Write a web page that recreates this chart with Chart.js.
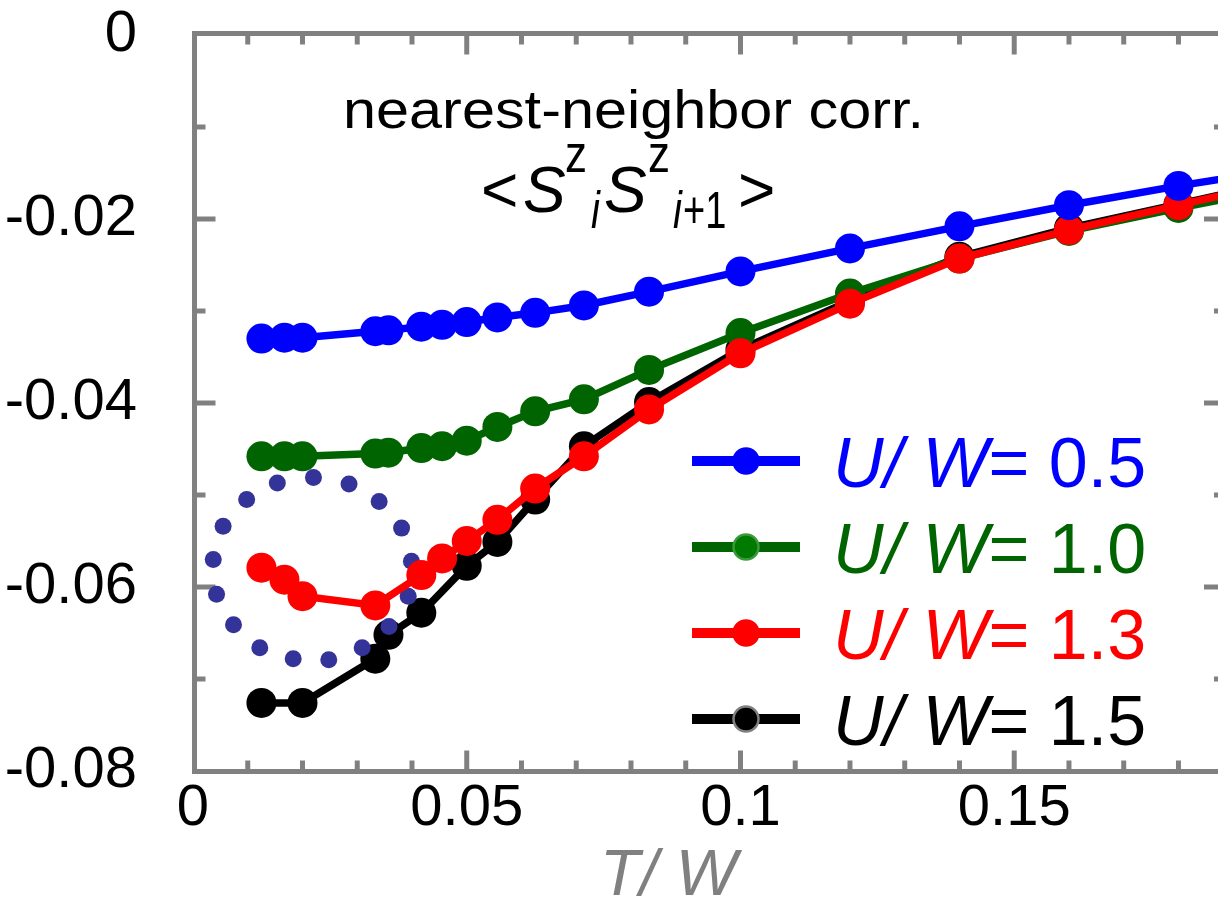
<!DOCTYPE html>
<html><head><meta charset="utf-8">
<script src="https://cdn.jsdelivr.net/npm/chart.js@4/dist/chart.umd.min.js"></script>
<style>
html,body{margin:0;padding:0;background:#fff;overflow:hidden;}
#wrap{width:1218px;height:907px;overflow:hidden;position:relative;background:#fff;}
canvas{display:block;}
</style></head>
<body><div id="wrap"><canvas id="c" width="1240" height="907" style="width:1240px;height:907px"></canvas></div>
<script>
// ---- data ----
const uValues = ['0.5', '1.0', '1.3', '1.5'];
const xTickValues = [0, 0.05, 0.1, 0.15];
const yTickValues = [0, -0.02, -0.04, -0.06, -0.08];

const tU05 = [0.0125, 0.0167, 0.02, 0.0333, 0.0357, 0.0417, 0.0455, 0.05, 0.0556, 0.0625, 0.0714, 0.0833, 0.1, 0.12, 0.14, 0.16, 0.18, 0.2];
const corrU05 = [-0.0330, -0.0329, -0.0329, -0.0322, -0.0321, -0.0317, -0.0315, -0.0312, -0.0307, -0.0302, -0.0294, -0.0279, -0.0257, -0.0232, -0.0208, -0.0185, -0.0164, -0.0145];

const tU10 = [0.0125, 0.0167, 0.02, 0.0333, 0.0357, 0.0417, 0.0455, 0.05, 0.0556, 0.0625, 0.0714, 0.0833, 0.1, 0.12, 0.14, 0.16, 0.18, 0.2];
const corrU10 = [-0.0458, -0.0458, -0.0458, -0.0455, -0.0454, -0.0449, -0.0447, -0.0441, -0.0426, -0.0409, -0.0396, -0.0364, -0.0324, -0.0281, -0.0243, -0.0213, -0.0188, -0.0165];

const tU13 = [0.0125, 0.0167, 0.02, 0.0333, 0.0417, 0.0455, 0.05, 0.0556, 0.0625, 0.0714, 0.0833, 0.1, 0.12, 0.14, 0.16, 0.18, 0.2];
const corrU13 = [-0.0579, -0.0592, -0.0610, -0.0620, -0.0587, -0.0569, -0.0550, -0.0527, -0.0493, -0.0458, -0.0407, -0.0346, -0.0292, -0.0243, -0.0212, -0.0185, -0.0158];

const tU15 = [0.0125, 0.02, 0.0333, 0.0357, 0.0417, 0.05, 0.0556, 0.0625, 0.0714, 0.0833, 0.1, 0.12, 0.14, 0.16, 0.18, 0.2];
const corrU15 = [-0.0726, -0.0726, -0.0678, -0.0652, -0.0628, -0.0577, -0.0551, -0.0505, -0.0447, -0.0399, -0.0342, -0.0289, -0.0241, -0.0210, -0.0184, -0.0157];

// dotted circle annotation
const circleT = [0.0037, 0.0043, 0.0074, 0.0122, 0.0183, 0.0248, 0.0309, 0.0358, 0.0393, 0.0399, 0.0381, 0.0340, 0.0285, 0.0220, 0.0154, 0.0098, 0.0055];
const circleCorr = [-0.0570, -0.0608, -0.0641, -0.0666, -0.0678, -0.0679, -0.0666, -0.0643, -0.0610, -0.0572, -0.0536, -0.0507, -0.0488, -0.0481, -0.0487, -0.0505, -0.0534];

// ---- styles ----
const FONT = '"Liberation Sans", Arial, Helvetica, sans-serif';
const seriesColors = ['#0000ff', '#006400', '#ff0000', '#000000'];
const legendBorders = ['#0000ff', '#3a9a3a', '#ff0000', '#808080'];
const legendFills = ['#0000ff', '#007a00', '#ff0000', '#000000'];

const pts = (xs, ys) => xs.map((v, i) => ({x: v, y: ys[i]}));

function series(xs, ys, i, order) {
  return {
    label: 'U/ W= ' + uValues[i],
    data: pts(xs, ys),
    borderColor: seriesColors[i],
    backgroundColor: seriesColors[i],
    pointBackgroundColor: seriesColors[i],
    pointBorderColor: seriesColors[i],
    borderWidth: 7.5,
    pointRadius: 15,
    pointBorderWidth: 0,
    pointHoverRadius: 15,
    tension: 0,
    showLine: true,
    order: order
  };
}

const datasets = [
  series(tU05, corrU05, 0, 0),
  series(tU13, corrU13, 2, 1),
  series(tU10, corrU10, 1, 2),
  {
    label: '',
    data: pts(circleT, circleCorr),
    showLine: false,
    pointRadius: 8.5,
    pointBorderWidth: 0,
    pointBackgroundColor: '#333399',
    backgroundColor: '#333399',
    borderColor: '#333399',
    order: 3
  },
  series(tU15, corrU15, 3, 4)
];

const frame = {
  id: 'frame',
  beforeDatasetsDraw(chart) {
    const {ctx, chartArea: a, scales: {x, y}} = chart;
    ctx.save();
    ctx.strokeStyle = '#808080';
    ctx.lineWidth = 5;
    const L = x.getPixelForValue(0) + 1.5;
    const R = a.right;
    const T = y.getPixelForValue(0) - 1.5;
    const B = y.getPixelForValue(-0.08) + 0.5;
    ctx.strokeRect(L, T, R - L, B - T);
    const seg = (x1, y1, x2, y2) => { ctx.beginPath(); ctx.moveTo(x1, y1); ctx.lineTo(x2, y2); ctx.stroke(); };
    for (let i = 1; i <= 18; i++) {
      const px = x.getPixelForValue(i / 100);
      const len = (i % 5 === 0) ? 21 : 11;
      seg(px, B, px, B - len);
      seg(px, T, px, T + len);
    }
    for (let i = 1; i <= 7; i++) {
      const py = y.getPixelForValue(-i / 100);
      const len = (i % 2 === 0) ? 21 : 11;
      seg(L, py, L + len, py);
      seg(R, py, R - len, py);
    }
    ctx.restore();
  }
};

function scaledText(ctx, t, font, x, y, sx, sy) {
  ctx.save();
  ctx.font = font;
  ctx.translate(x, y);
  ctx.scale(sx, sy);
  ctx.fillText(t, 0, 0);
  ctx.restore();
}

const texts = {
  id: 'texts',
  afterDraw(chart) {
    const ctx = chart.ctx;
    ctx.save();
    ctx.textBaseline = 'alphabetic';
    ctx.textAlign = 'left';
    ctx.fillStyle = '#000';
    // title line 1
    scaledText(ctx, 'nearest-neighbor corr.', '54px ' + FONT, 343, 128, 1.1, 1.0);
    // title line 2: <S^z_i S^z_{i+1}>
    const base = 212;
    const big = '64px ' + FONT, bigI = 'italic 64px ' + FONT;
    const sm = '44px ' + FONT, sub = '40px ' + FONT, subI = 'italic 40px ' + FONT;
    scaledText(ctx, '<', big, 481, base, 1, 1);
    scaledText(ctx, 'S', bigI, 523, base, 1, 1);
    scaledText(ctx, 'z', sm, 565, base - 40, 1.0, 1.2);
    scaledText(ctx, 'i', subI, 591, base + 16, 1, 1.3);
    scaledText(ctx, 'S', bigI, 604, base, 1, 1);
    scaledText(ctx, 'z', sm, 648, base - 40, 1.0, 1.2);
    scaledText(ctx, 'i', subI, 673, base + 16, 1, 1.3);
    scaledText(ctx, '+1', sub, 683, base + 16, 0.95, 1.3);
    scaledText(ctx, '>', big, 738, base, 1, 1);

    // x-axis title
    ctx.fillStyle = '#808080';
    ctx.font = 'italic 65px ' + FONT;
    ctx.fillText('T/ W', 600, 895);

    // legend
    const rows = [461, 547, 633, 719];
    uValues.forEach((u, i) => {
      const yc = rows[i];
      ctx.strokeStyle = seriesColors[i];
      ctx.lineWidth = 10;
      ctx.beginPath(); ctx.moveTo(692, yc); ctx.lineTo(800, yc); ctx.stroke();
      ctx.beginPath(); ctx.arc(746, yc, 12.5, 0, Math.PI * 2);
      ctx.fillStyle = legendFills[i]; ctx.fill();
      ctx.lineWidth = 2.5; ctx.strokeStyle = legendBorders[i]; ctx.stroke();
      ctx.fillStyle = seriesColors[i];
      let lx = 833;
      ctx.font = 'italic 70px ' + FONT;
      ctx.fillText('U/ W', lx, yc + 26);
      lx += ctx.measureText('U/ W').width;
      ctx.font = '70px ' + FONT;
      ctx.fillText('= ' + u, lx, yc + 26);
    });
    ctx.restore();
  }
};

new Chart(document.getElementById('c'), {
  type: 'scatter',
  data: {datasets},
  options: {
    responsive: false,
    animation: false,
    devicePixelRatio: 1,
    layout: {padding: {left: 0, top: 35, right: 14, bottom: 0}},
    plugins: {legend: {display: false}, tooltip: {enabled: false}},
    scales: {
      x: {
        type: 'linear', min: 0, max: 0.1885,
        border: {display: false},
        grid: {display: false, drawTicks: false},
        afterFit: s => { s.height = 136; s.paddingLeft = 0; s.paddingRight = 0; },
        afterBuildTicks: s => { s.ticks = xTickValues.map(v => ({value: v})); },
        ticks: {
          padding: 3,
          color: '#000',
          font: {family: FONT, size: 58},
          callback: v => String(+v.toFixed(2))
        }
      },
      y: {
        type: 'linear', min: -0.08, max: 0,
        border: {display: false},
        grid: {display: false, drawTicks: false},
        afterFit: s => { s.width = 193; s.paddingTop = 0; s.paddingBottom = 0; },
        afterBuildTicks: s => { s.ticks = yTickValues.map(v => ({value: v})); },
        ticks: {
          padding: 56,
          color: '#000',
          font: {family: FONT, size: 58},
          callback: v => (Math.abs(v) < 1e-9 ? '0' : v.toFixed(2))
        }
      }
    }
  },
  plugins: [frame, texts]
});
</script>
</body></html>
